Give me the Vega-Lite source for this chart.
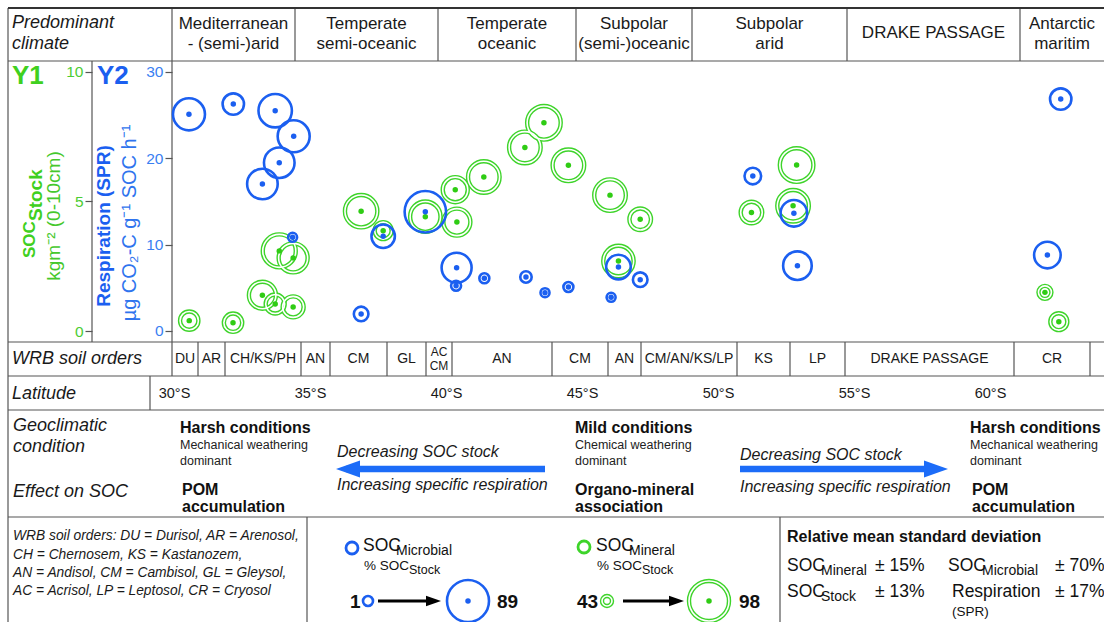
{
  "$schema": "https://vega.github.io/schema/vega-lite/v6.json",
  "width": 1104,
  "height": 622,
  "autosize": {"type": "none"},
  "padding": 0,
  "background": "white",
  "config": {"view": {"stroke": null}, "font": "Liberation Sans", "text": {"font": "Liberation Sans"}},
  "datasets": {
    "green": [
      {"lat": 30.56, "soc": 0.40, "mineral": 51.7},
      {"lat": 32.17, "soc": 0.32, "mineral": 51.7},
      {"lat": 33.25, "soc": 1.38, "mineral": 66.1},
      {"lat": 33.72, "soc": 1.04, "mineral": 52.6},
      {"lat": 34.38, "soc": 0.93, "mineral": 55.5},
      {"lat": 33.87, "soc": 3.09, "mineral": 79.3},
      {"lat": 34.38, "soc": 2.82, "mineral": 70.2},
      {"lat": 36.88, "soc": 4.62, "mineral": 77.8},
      {"lat": 37.69, "soc": 3.87, "mineral": 49.9},
      {"lat": 39.24, "soc": 4.41, "mineral": 73.2},
      {"lat": 40.34, "soc": 5.45, "mineral": 62.3},
      {"lat": 40.40, "soc": 4.20, "mineral": 66.1},
      {"lat": 41.39, "soc": 5.94, "mineral": 75.9},
      {"lat": 42.90, "soc": 7.08, "mineral": 75.9},
      {"lat": 43.60, "soc": 8.03, "mineral": 80.7},
      {"lat": 44.50, "soc": 6.39, "mineral": 75.9},
      {"lat": 46.03, "soc": 5.24, "mineral": 75.9},
      {"lat": 47.14, "soc": 4.31, "mineral": 56.4},
      {"lat": 46.34, "soc": 2.70, "mineral": 73.2},
      {"lat": 51.23, "soc": 4.57, "mineral": 56.4},
      {"lat": 52.89, "soc": 6.40, "mineral": 80.7},
      {"lat": 52.76, "soc": 4.83, "mineral": 75.9},
      {"lat": 62.02, "soc": 1.49, "mineral": 45.5},
      {"lat": 62.53, "soc": 0.36, "mineral": 49.9}
    ],
    "blue": [
      {"lat": 30.55, "resp": 25.07, "microbial": 49.9},
      {"lat": 32.18, "resp": 26.26, "microbial": 19.9},
      {"lat": 33.72, "resp": 25.49, "microbial": 54.7},
      {"lat": 34.40, "resp": 22.53, "microbial": 49.9},
      {"lat": 33.87, "resp": 19.47, "microbial": 45.2},
      {"lat": 33.25, "resp": 17.01, "microbial": 45.2},
      {"lat": 34.36, "resp": 10.84, "microbial": 0},
      {"lat": 36.88, "resp": 1.97, "microbial": 7.0},
      {"lat": 37.69, "resp": 10.96, "microbial": 24.7},
      {"lat": 39.24, "resp": 13.80, "microbial": 86.4},
      {"lat": 40.39, "resp": 7.32, "microbial": 43.3},
      {"lat": 40.37, "resp": 5.24, "microbial": 1.0},
      {"lat": 41.41, "resp": 6.10, "microbial": 1.0},
      {"lat": 42.94, "resp": 6.25, "microbial": 2.6},
      {"lat": 43.64, "resp": 4.43, "microbial": 0},
      {"lat": 44.50, "resp": 5.09, "microbial": 1.0},
      {"lat": 46.07, "resp": 3.90, "microbial": 0},
      {"lat": 46.34, "resp": 7.40, "microbial": 27.7},
      {"lat": 47.14, "resp": 5.94, "microbial": 7.0},
      {"lat": 51.28, "resp": 17.93, "microbial": 10.3},
      {"lat": 52.79, "resp": 13.62, "microbial": 33.1},
      {"lat": 52.92, "resp": 7.56, "microbial": 39.0},
      {"lat": 62.60, "resp": 26.84, "microbial": 19.9},
      {"lat": 62.11, "resp": 8.79, "microbial": 33.1}
    ],
    "grid": [
      {"x": 8, "y": 61, "x2": 1104, "y2": 61},
      {"x": 8, "y": 342, "x2": 1104, "y2": 342},
      {"x": 8, "y": 376, "x2": 1104, "y2": 376},
      {"x": 8, "y": 410, "x2": 1104, "y2": 410},
      {"x": 8, "y": 517, "x2": 1104, "y2": 517},
      {"x": 8, "y": 8, "x2": 8, "y2": 622},
      {"x": 172, "y": 8, "x2": 172, "y2": 376},
      {"x": 92, "y": 61, "x2": 92, "y2": 342},
      {"x": 295, "y": 8, "x2": 295, "y2": 61},
      {"x": 438, "y": 8, "x2": 438, "y2": 61},
      {"x": 576, "y": 8, "x2": 576, "y2": 61},
      {"x": 692, "y": 8, "x2": 692, "y2": 61},
      {"x": 847, "y": 8, "x2": 847, "y2": 61},
      {"x": 1020, "y": 8, "x2": 1020, "y2": 61},
      {"x": 198, "y": 342, "x2": 198, "y2": 376},
      {"x": 225, "y": 342, "x2": 225, "y2": 376},
      {"x": 301, "y": 342, "x2": 301, "y2": 376},
      {"x": 330, "y": 342, "x2": 330, "y2": 376},
      {"x": 387, "y": 342, "x2": 387, "y2": 376},
      {"x": 426, "y": 342, "x2": 426, "y2": 376},
      {"x": 452, "y": 342, "x2": 452, "y2": 376},
      {"x": 552, "y": 342, "x2": 552, "y2": 376},
      {"x": 608, "y": 342, "x2": 608, "y2": 376},
      {"x": 641, "y": 342, "x2": 641, "y2": 376},
      {"x": 737, "y": 342, "x2": 737, "y2": 376},
      {"x": 790, "y": 342, "x2": 790, "y2": 376},
      {"x": 845, "y": 342, "x2": 845, "y2": 376},
      {"x": 1014, "y": 342, "x2": 1014, "y2": 376},
      {"x": 1090, "y": 342, "x2": 1090, "y2": 376},
      {"x": 150, "y": 376, "x2": 150, "y2": 410},
      {"x": 307, "y": 517, "x2": 307, "y2": 622},
      {"x": 780, "y": 517, "x2": 780, "y2": 622}
    ],
    "border": [{"x": 8, "y": 8, "x2": 1104, "y2": 8}],
    "t_ital18": [
      {"x": 12, "y": 23, "t": "Predominant"},
      {"x": 12, "y": 44, "t": "climate"},
      {"x": 12, "y": 359, "t": "WRB soil orders"},
      {"x": 12, "y": 394, "t": "Latitude"},
      {"x": 13, "y": 426, "t": "Geoclimatic"},
      {"x": 13, "y": 447, "t": "condition"},
      {"x": 13, "y": 492, "t": "Effect on SOC"}
    ],
    "t_head17": [
      {"x": 233.5, "y": 24, "t": "Mediterranean"},
      {"x": 233.5, "y": 44, "t": "- (semi-)arid"},
      {"x": 366.5, "y": 24, "t": "Temperate"},
      {"x": 366.5, "y": 44, "t": "semi-oceanic"},
      {"x": 507, "y": 24, "t": "Temperate"},
      {"x": 507, "y": 44, "t": "oceanic"},
      {"x": 634, "y": 24, "t": "Subpolar"},
      {"x": 634, "y": 44, "t": "(semi-)oceanic"},
      {"x": 769.5, "y": 24, "t": "Subpolar"},
      {"x": 769.5, "y": 44, "t": "arid"},
      {"x": 933.5, "y": 33, "t": "DRAKE  PASSAGE"},
      {"x": 1062, "y": 24, "t": "Antarctic"},
      {"x": 1062, "y": 44, "t": "maritim"}
    ],
    "t_soil14": [
      {"x": 185, "y": 359, "t": "DU"},
      {"x": 211.5, "y": 359, "t": "AR"},
      {"x": 263, "y": 359, "t": "CH/KS/PH"},
      {"x": 315.5, "y": 359, "t": "AN"},
      {"x": 358.5, "y": 359, "t": "CM"},
      {"x": 406.5, "y": 359, "t": "GL"},
      {"x": 502, "y": 359, "t": "AN"},
      {"x": 580, "y": 359, "t": "CM"},
      {"x": 624.5, "y": 359, "t": "AN"},
      {"x": 689, "y": 359, "t": "CM/AN/KS/LP"},
      {"x": 763.5, "y": 359, "t": "KS"},
      {"x": 817.5, "y": 359, "t": "LP"},
      {"x": 929.5, "y": 359, "t": "DRAKE  PASSAGE"},
      {"x": 1052, "y": 359, "t": "CR"}
    ],
    "t_soil12": [
      {"x": 439, "y": 352, "t": "AC"},
      {"x": 439, "y": 366, "t": "CM"}
    ],
    "t_bold16": [
      {"x": 180, "y": 428, "t": "Harsh conditions"},
      {"x": 182, "y": 490, "t": "POM"},
      {"x": 182, "y": 507, "t": "accumulation"},
      {"x": 575, "y": 428, "t": "Mild conditions"},
      {"x": 575, "y": 490, "t": "Organo-mineral"},
      {"x": 575, "y": 507, "t": "association"},
      {"x": 970, "y": 428, "t": "Harsh conditions"},
      {"x": 972, "y": 490, "t": "POM"},
      {"x": 972, "y": 507, "t": "accumulation"},
      {"x": 787, "y": 537, "t": "Relative mean standard deviation"}
    ],
    "t_reg": [
      {"x": 180, "y": 445, "t": "Mechanical weathering"},
      {"x": 180, "y": 461, "t": "dominant"},
      {"x": 575, "y": 445, "t": "Chemical weathering"},
      {"x": 575, "y": 461, "t": "dominant"},
      {"x": 970, "y": 445, "t": "Mechanical weathering"},
      {"x": 970, "y": 461, "t": "dominant"}
    ],
    "t_ital16": [
      {"x": 337, "y": 452, "t": "Decreasing SOC stock"},
      {"x": 337, "y": 485, "t": "Increasing specific respiration"},
      {"x": 740, "y": 455, "t": "Decreasing SOC stock"},
      {"x": 740, "y": 487, "t": "Increasing specific respiration"}
    ],
    "t_ital14": [
      {"x": 13, "y": 536, "t": "WRB soil orders:  DU = Durisol, AR = Arenosol,"},
      {"x": 13, "y": 555, "t": "CH = Chernosem, KS = Kastanozem,"},
      {"x": 13, "y": 573, "t": "AN = Andisol, CM = Cambisol, GL = Gleysol,"},
      {"x": 13, "y": 591, "t": "AC = Acrisol, LP = Leptosol, CR = Cryosol"}
    ],
    "t_big17": [
      {"x": 363, "y": 546, "t": "SOC"},
      {"x": 596, "y": 546, "t": "SOC"},
      {"x": 787, "y": 566, "t": "SOC"},
      {"x": 875, "y": 566, "t": "± 15%"},
      {"x": 948, "y": 566, "t": "SOC"},
      {"x": 1055, "y": 566, "t": "± 70%"},
      {"x": 787, "y": 592, "t": "SOC"},
      {"x": 875, "y": 592, "t": "± 13%"},
      {"x": 952, "y": 592, "t": "Respiration"},
      {"x": 1055, "y": 592, "t": "± 17%"}
    ],
    "t_sub14": [
      {"x": 396, "y": 551, "t": "Microbial"},
      {"x": 629, "y": 551, "t": "Mineral"},
      {"x": 821, "y": 571, "t": "Mineral"},
      {"x": 982, "y": 571, "t": "Microbial"},
      {"x": 821, "y": 597, "t": "Stock"}
    ],
    "t_small13": [
      {"x": 364, "y": 566, "t": "% SOC"},
      {"x": 597, "y": 566, "t": "% SOC"},
      {"x": 952, "y": 612, "t": "(SPR)"}
    ],
    "t_tiny12": [
      {"x": 409, "y": 570, "t": "Stock"},
      {"x": 642, "y": 570, "t": "Stock"}
    ],
    "t_num19": [
      {"x": 350, "y": 602, "t": "1"},
      {"x": 497, "y": 602, "t": "89"},
      {"x": 577, "y": 602, "t": "43"},
      {"x": 739, "y": 602, "t": "98"}
    ],
    "t_y1": [{"x": 12, "y": 76, "t": "Y1"}],
    "t_y2": [{"x": 97, "y": 76, "t": "Y2"}],
    "t_rot_soc": [{"x": 30, "y": 258, "t": "SOC"}],
    "t_rot_stock": [{"x": 36, "y": 221, "t": "Stock"}],
    "t_rot_kg": [{"x": 54, "y": 216, "t": "kgm⁻² (0-10cm)"}],
    "t_rot_resp": [{"x": 104, "y": 226, "t": "Respiration (SPR)"}],
    "t_rot_unit": [{"x": 130, "y": 223, "t": "µg CO₂-C g⁻¹ SOC h⁻¹"}],
    "leg_blue": [
      {"x": 368, "y": 601, "microbial": 1},
      {"x": 468, "y": 601, "microbial": 89}
    ],
    "leg_blue_dot": [{"x": 468, "y": 601}],
    "leg_green": [
      {"x": 607, "y": 601, "mineral": 43},
      {"x": 709, "y": 601, "mineral": 98}
    ],
    "leg_green_dot": [{"x": 709, "y": 601}],
    "icon_blue": [{"x": 352, "y": 548}],
    "icon_green": [{"x": 584, "y": 547}],
    "shaft_blue": [
      {"x": 346, "x2": 545, "y": 469},
      {"x": 740, "x2": 937, "y": 469}
    ],
    "head_left_blue": [{"x": 348, "y": 469}],
    "head_right_blue": [{"x": 936, "y": 469}],
    "shaft_black": [
      {"x": 378, "x2": 434, "y": 601},
      {"x": 623, "x2": 677, "y": 601}
    ],
    "head_black": [
      {"x": 433.5, "y": 601},
      {"x": 676.5, "y": 601}
    ]
  },
  "layer": [
    {
      "encoding": {
        "x": {"field": "x", "type": "quantitative", "scale": {"domain": [0, 1104], "nice": false, "zero": false}, "axis": null},
        "y": {"field": "y", "type": "quantitative", "scale": {"domain": [0, 622], "reverse": true, "nice": false, "zero": false}, "axis": null}
      },
      "layer": [
        {"data": {"name": "grid"}, "mark": {"type": "rule", "stroke": "#555555", "strokeWidth": 1.2},
         "encoding": {"x2": {"field": "x2"}, "y2": {"field": "y2"}}},
        {"data": {"name": "border"}, "mark": {"type": "rule", "stroke": "#333333", "strokeWidth": 2.2},
         "encoding": {"x2": {"field": "x2"}, "y2": {"field": "y2"}}},
        {"data": {"name": "t_ital18"}, "mark": {"type": "text", "align": "left", "baseline": "middle", "fontSize": 18, "fontStyle": "italic", "color": "#1a1a1a"},
         "encoding": {"text": {"field": "t"}}},
        {"data": {"name": "t_head17"}, "mark": {"type": "text", "align": "center", "baseline": "middle", "fontSize": 17, "color": "#1a1a1a"},
         "encoding": {"text": {"field": "t"}}},
        {"data": {"name": "t_soil14"}, "mark": {"type": "text", "align": "center", "baseline": "middle", "fontSize": 14, "color": "#1a1a1a"},
         "encoding": {"text": {"field": "t"}}},
        {"data": {"name": "t_soil12"}, "mark": {"type": "text", "align": "center", "baseline": "middle", "fontSize": 12, "color": "#1a1a1a"},
         "encoding": {"text": {"field": "t"}}},
        {"data": {"name": "t_bold16"}, "mark": {"type": "text", "align": "left", "baseline": "middle", "fontSize": 16, "fontWeight": "bold", "color": "#111111"},
         "encoding": {"text": {"field": "t"}}},
        {"data": {"name": "t_reg"}, "mark": {"type": "text", "align": "left", "baseline": "middle", "fontSize": 12.5, "color": "#222222"},
         "encoding": {"text": {"field": "t"}}},
        {"data": {"name": "t_ital16"}, "mark": {"type": "text", "align": "left", "baseline": "middle", "fontSize": 16, "fontStyle": "italic", "color": "#1a1a1a"},
         "encoding": {"text": {"field": "t"}}},
        {"data": {"name": "t_ital14"}, "mark": {"type": "text", "align": "left", "baseline": "middle", "fontSize": 13.8, "fontStyle": "italic", "color": "#1a1a1a"},
         "encoding": {"text": {"field": "t"}}},
        {"data": {"name": "t_big17"}, "mark": {"type": "text", "align": "left", "baseline": "middle", "fontSize": 17.5, "color": "#111111"},
         "encoding": {"text": {"field": "t"}}},
        {"data": {"name": "t_sub14"}, "mark": {"type": "text", "align": "left", "baseline": "middle", "fontSize": 14, "color": "#111111"},
         "encoding": {"text": {"field": "t"}}},
        {"data": {"name": "t_small13"}, "mark": {"type": "text", "align": "left", "baseline": "middle", "fontSize": 13.5, "color": "#111111"},
         "encoding": {"text": {"field": "t"}}},
        {"data": {"name": "t_tiny12"}, "mark": {"type": "text", "align": "left", "baseline": "middle", "fontSize": 12.5, "color": "#111111"},
         "encoding": {"text": {"field": "t"}}},
        {"data": {"name": "t_num19"}, "mark": {"type": "text", "align": "left", "baseline": "middle", "fontSize": 19, "fontWeight": "bold", "color": "#111111"},
         "encoding": {"text": {"field": "t"}}},
        {"data": {"name": "t_y1"}, "mark": {"type": "text", "align": "left", "baseline": "middle", "fontSize": 26, "fontWeight": "bold", "color": "#3fd020"},
         "encoding": {"text": {"field": "t"}}},
        {"data": {"name": "t_y2"}, "mark": {"type": "text", "align": "left", "baseline": "middle", "fontSize": 26, "fontWeight": "bold", "color": "#1b5ff0"},
         "encoding": {"text": {"field": "t"}}},
        {"data": {"name": "t_rot_soc"}, "mark": {"type": "text", "align": "left", "baseline": "middle", "angle": 270, "fontSize": 17, "fontWeight": "bold", "color": "#3fd020"},
         "encoding": {"text": {"field": "t"}}},
        {"data": {"name": "t_rot_stock"}, "mark": {"type": "text", "align": "left", "baseline": "middle", "angle": 270, "fontSize": 19, "fontWeight": "bold", "color": "#3fd020"},
         "encoding": {"text": {"field": "t"}}},
        {"data": {"name": "t_rot_kg"}, "mark": {"type": "text", "align": "center", "baseline": "middle", "angle": 270, "fontSize": 19, "color": "#45c82c"},
         "encoding": {"text": {"field": "t"}}},
        {"data": {"name": "t_rot_resp"}, "mark": {"type": "text", "align": "center", "baseline": "middle", "angle": 270, "fontSize": 19, "fontWeight": "bold", "color": "#1b5ff0"},
         "encoding": {"text": {"field": "t"}}},
        {"data": {"name": "t_rot_unit"}, "mark": {"type": "text", "align": "center", "baseline": "middle", "angle": 270, "fontSize": 20, "color": "#2f74ee"},
         "encoding": {"text": {"field": "t"}}},
        {"data": {"name": "shaft_blue"}, "mark": {"type": "rule", "stroke": "#1c6cf8", "strokeWidth": 6.5},
         "encoding": {"x2": {"field": "x2"}}},
        {"data": {"name": "head_left_blue"}, "mark": {"type": "point", "shape": "M-1,0L1,-0.7L1,0.7Z", "filled": true, "color": "#1c6cf8", "opacity": 1, "size": 576},
         "encoding": {}},
        {"data": {"name": "head_right_blue"}, "mark": {"type": "point", "shape": "M1,0L-1,-0.7L-1,0.7Z", "filled": true, "color": "#1c6cf8", "opacity": 1, "size": 576},
         "encoding": {}},
        {"data": {"name": "shaft_black"}, "mark": {"type": "rule", "stroke": "#000000", "strokeWidth": 3},
         "encoding": {"x2": {"field": "x2"}}},
        {"data": {"name": "head_black"}, "mark": {"type": "point", "shape": "M1,0L-1,-0.7L-1,0.7Z", "filled": true, "color": "#000000", "opacity": 1, "size": 225},
         "encoding": {}},
        {"data": {"name": "icon_blue"}, "mark": {"type": "point", "filled": false, "stroke": "#1b5ff0", "strokeWidth": 2.8, "opacity": 1, "size": 144},
         "encoding": {}},
        {"data": {"name": "icon_green"}, "mark": {"type": "point", "filled": false, "stroke": "#3ed42a", "strokeWidth": 2.8, "opacity": 1, "size": 144},
         "encoding": {}},
        {"data": {"name": "leg_blue"}, "mark": {"type": "point", "filled": false, "stroke": "#1b5ff0", "strokeWidth": 2.6, "opacity": 1},
         "encoding": {"size": {"field": "microbial", "type": "quantitative", "scale": {"domain": [0, 89], "range": [81, 1764]}, "legend": null}}},
        {"data": {"name": "leg_blue_dot"}, "mark": {"type": "circle", "color": "#1b5ff0", "opacity": 1, "size": 30},
         "encoding": {}},
        {"data": {"name": "leg_green"},
         "layer": [
           {"mark": {"type": "point", "filled": false, "stroke": "#3ed42a", "strokeWidth": 4.4, "opacity": 1}},
           {"mark": {"type": "point", "filled": false, "stroke": "#ffffff", "strokeWidth": 1.6, "opacity": 1}}
         ],
         "encoding": {"size": {"field": "mineral", "type": "quantitative", "scale": {"domain": [43, 98], "range": [100, 1600]}, "legend": null}}},
        {"data": {"name": "leg_green_dot"}, "mark": {"type": "circle", "color": "#2fcc14", "opacity": 1, "size": 30},
         "encoding": {}}
      ],
      "resolve": {"scale": {"size": "independent"}}
    },
    {
      "encoding": {
        "x": {"field": "lat", "type": "quantitative",
              "scale": {"domain": [23.6029, 64.1912], "nice": false, "zero": false},
              "axis": {"orient": "bottom", "offset": -238, "values": [30, 35, 40, 45, 50, 55, 60],
                       "labelExpr": "datum.value + '°S'", "domain": false, "ticks": false, "tickSize": 0,
                       "labelPadding": 2, "labelFontSize": 14.5, "labelColor": "#1a1a1a", "labelFont": "Liberation Sans",
                       "grid": false, "title": null, "labelFlush": false, "labelOverlap": false}}
      },
      "layer": [
        {
          "data": {"name": "green"},
          "encoding": {
            "y": {"field": "soc", "type": "quantitative",
                  "scale": {"domain": [-11.222, 12.765], "nice": false, "zero": false},
                  "axis": {"orient": "left", "offset": -92, "values": [0, 5, 10], "domain": false, "grid": false,
                           "tickSize": 7, "tickColor": "#555555", "tickWidth": 1.2, "labelColor": "#4ccc33",
                           "labelFontSize": 15.5, "labelPadding": 2, "title": null, "labelFont": "Liberation Sans"}}
          },
          "layer": [
            {"mark": {"type": "point", "filled": false, "stroke": "#3ed42a", "strokeWidth": 4.4, "opacity": 1},
             "encoding": {"size": {"field": "mineral", "type": "quantitative", "scale": {"domain": [43, 98], "range": [100, 1600]}, "legend": null}}},
            {"mark": {"type": "point", "filled": false, "stroke": "#ffffff", "strokeWidth": 1.6, "opacity": 1},
             "encoding": {"size": {"field": "mineral", "type": "quantitative", "scale": {"domain": [43, 98], "range": [100, 1600]}, "legend": null}}},
            {"mark": {"type": "circle", "color": "#2fcc14", "opacity": 1, "size": 30}}
          ]
        },
        {
          "data": {"name": "blue"},
          "encoding": {
            "y": {"field": "resp", "type": "quantitative",
                  "scale": {"domain": [-33.669, 38.297], "nice": false, "zero": false},
                  "axis": {"orient": "left", "offset": -172, "values": [0, 10, 20, 30], "domain": false, "grid": false,
                           "tickSize": 7, "tickColor": "#555555", "tickWidth": 1.2, "labelColor": "#3a7ff2",
                           "labelFontSize": 15.5, "labelPadding": 2, "title": null, "labelFont": "Liberation Sans"}}
          },
          "layer": [
            {"mark": {"type": "point", "filled": false, "stroke": "#1b5ff0", "strokeWidth": 2.6, "opacity": 1},
             "encoding": {"size": {"field": "microbial", "type": "quantitative", "scale": {"domain": [0, 89], "range": [81, 1764]}, "legend": null}}},
            {"mark": {"type": "circle", "color": "#1b5ff0", "opacity": 1, "size": 30}}
          ]
        }
      ],
      "resolve": {"scale": {"y": "independent", "size": "independent"}}
    }
  ],
  "resolve": {"scale": {"x": "independent", "y": "independent", "size": "independent"}}
}
